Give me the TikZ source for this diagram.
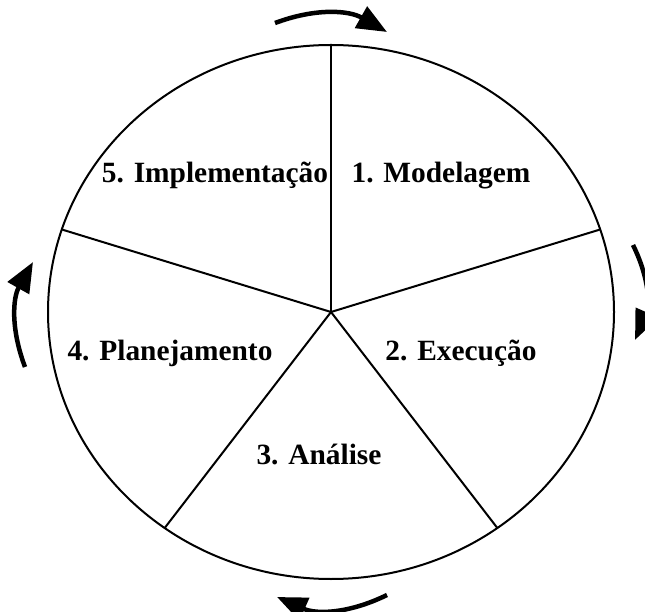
\documentclass[tikz,border=0pt]{standalone}
\usepackage{fontspec}
\setmainfont{Liberation Serif}
\usetikzlibrary{arrows.meta}

\begin{document}
\begin{tikzpicture}[x=1pt, y=1pt,
	phase/.style={font=\fontsize{29.4}{35}\selectfont\bfseries, inner sep=0pt, anchor=base},
	cyclearrow/.style={line width=4.5pt, -{Triangle[length=30pt, width=24pt]}}]

	\useasboundingbox (0, 0) rectangle (645, 611);

	\begin{scope}[shift={(331, 299)}]

		\coordinate (hub) at (0, 0);

		% outer ring
		\draw[line width=2pt] (hub) ellipse (283 and 267);

		% spokes
		\foreach \ang in {90, 18, -54, -126, 162}
			\draw[line width=2pt] (hub) -- (\ang : 283 and 267);

		% phase labels
		\node[phase] (modelagem)    at (110, 129)   {1. Modelagem};
		\node[phase] (execucao)     at (130, -49)   {2. Execução};
		\node[phase] (analise)      at (-12, -152)  {3. Análise};
		\node[phase] (planejamento) at (-161, -49)  {4. Planejamento};
		\node[phase] (implementa)   at (-116, 129)  {5. Implementação};

		% arrow ends
		\coordinate (topA)   at (-56, 289);   \coordinate (topB)   at (56, 280);
		\coordinate (rightA) at (302, 67);    \coordinate (rightB) at (304, -28);
		\coordinate (botA)   at (56, -283);   \coordinate (botB)   at (-54, -285);
		\coordinate (leftA)  at (-306, -55);  \coordinate (leftB)  at (-298, 50);

		% turning arrows
		\draw[cyclearrow] (topA)   to[bend left=25] (topB);   % top
		\draw[cyclearrow] (rightA) to[bend left=25] (rightB); % right
		\draw[cyclearrow] (botA)   to[bend left=25] (botB);   % bottom
		\draw[cyclearrow] (leftA)  to[bend left=25] (leftB);  % left

	\end{scope}

\end{tikzpicture}
\end{document}
